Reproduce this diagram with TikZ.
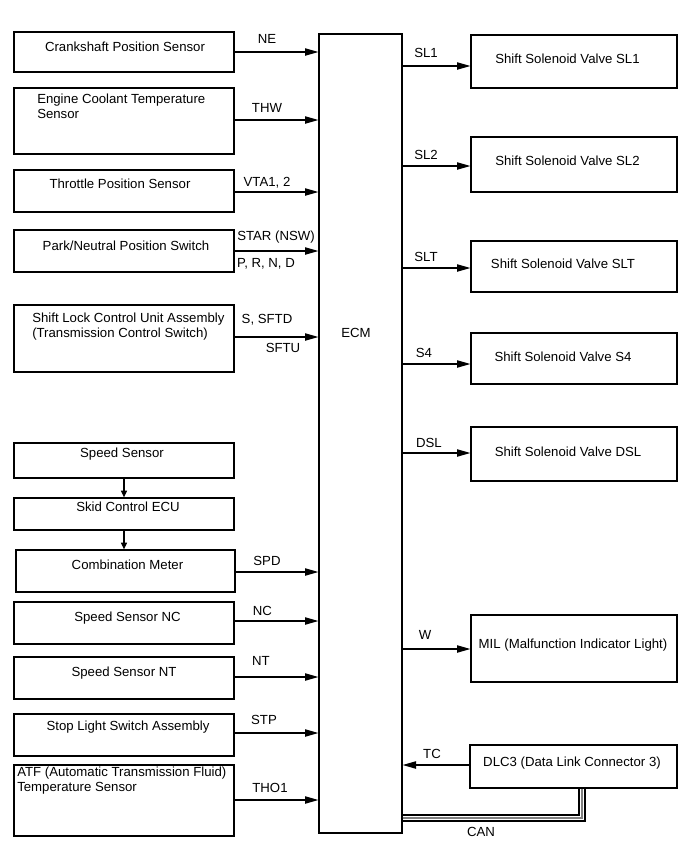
\documentclass[tikz,border=0pt]{standalone}
\usepackage{fontspec}
\setmainfont{Liberation Sans}
\usetikzlibrary{arrows.meta,fit}
\begin{document}
\begin{tikzpicture}[x=0.75pt,y=-0.75pt,
 box/.style={draw,line width=1pt,inner sep=0pt},
 txt/.style={font=\fontsize{9.9}{11.25}\selectfont, inner sep=0pt, text height=0.7em, text depth=0.05em},
 mtxt/.style={font=\fontsize{9.9}{11.25}\selectfont, inner sep=0pt, align=left, anchor=west},
 arr/.style={line width=0.8pt,-{Triangle[length=10pt,width=5.5pt]}},
 varr/.style={line width=0.8pt,-{Triangle[length=5pt,width=4.5pt]}},
 canline/.style={line width=0.8pt}]
\useasboundingbox (0,0) rectangle (690,854);
% ECM
\node[box,fit={(319,34) (402,833)}] (ecm) {};
\node[txt] (ecmt) at (356,333) {ECM};
% left boxes
\node[box,fit={(14,32) (234,72)}] (crank) {};
\node[box,fit={(14,88) (234,154)}] (ect) {};
\node[box,fit={(14,170) (234,212)}] (tps) {};
\node[box,fit={(14,230) (234,272)}] (pnp) {};
\node[box,fit={(14,305) (234,372)}] (slk) {};
\node[box,fit={(14,443) (234,478)}] (spd) {};
\node[box,fit={(14,498) (234,530)}] (skid) {};
\node[box,fit={(16,550) (235,592)}] (comb) {};
\node[box,fit={(14,602) (234,644)}] (nc) {};
\node[box,fit={(14,657) (234,699)}] (nt) {};
\node[box,fit={(14,714) (234,756)}] (stp) {};
\node[box,fit={(14,765) (234,836)}] (atf) {};
% left texts
\node[txt] (crankt) at (125,47) {Crankshaft Position Sensor};
\node[mtxt] (ectt) at (37,106.5) {Engine Coolant Temperature\\Sensor};
\node[txt] (tpst) at (120,184) {Throttle Position Sensor};
\node[txt] (pnpt) at (126,246) {Park/Neutral Position Switch};
\node[mtxt] (slkt) at (32,327) {Shift Lock Control Unit Assembly\\(Transmission Control Switch)};
\node[txt] (spdt) at (122,453) {Speed Sensor};
\node[txt] (skidt) at (128,507) {Skid Control ECU};
\node[txt] (combt) at (127.5,565) {Combination Meter};
\node[txt] (nct) at (127.5,617) {Speed Sensor NC};
\node[txt] (ntt) at (124,672) {Speed Sensor NT};
\node[txt] (stpt) at (128,726) {Stop Light Switch Assembly};
\node[mtxt] (atft) at (17,781) {ATF (Automatic Transmission Fluid)\\Temperature Sensor};
% left arrows
\draw[arr] (crank.east |- 0,52) -- (ecm.west |- 0,52);
\draw[arr] (ect.east |- 0,120) -- (ecm.west |- 0,120);
\draw[arr] (tps.east |- 0,192) -- (ecm.west |- 0,192);
\draw[arr] (pnp.east |- 0,251) -- (ecm.west |- 0,251);
\draw[arr] (slk.east |- 0,337) -- (ecm.west |- 0,337);
\draw[arr] (comb.east |- 0,572) -- (ecm.west |- 0,572);
\draw[arr] (nc.east |- 0,621) -- (ecm.west |- 0,621);
\draw[arr] (nt.east |- 0,677) -- (ecm.west |- 0,677);
\draw[arr] (stp.east |- 0,733) -- (ecm.west |- 0,733);
\draw[arr] (atf.east |- 0,800) -- (ecm.west |- 0,800);
\draw[varr] (spd.south -| 124,0) -- (skid.north -| 124,0);
\draw[varr] (skid.south -| 124,0) -- (comb.north -| 124,0);
% left labels
\node[txt] (lne) at (267,39) {NE};
\node[txt] (lthw) at (267,108) {THW};
\node[txt] (lvta) at (267,182) {VTA1, 2};
\node[txt] (lstar) at (276,236) {STAR (NSW)};
\node[txt] (lprnd) at (266,263) {P, R, N, D};
\node[txt] (lsftd) at (267,319) {S, SFTD};
\node[txt] (lsftu) at (283,348) {SFTU};
\node[txt] (lspd) at (267,561) {SPD};
\node[txt] (lnc) at (262.5,611) {NC};
\node[txt] (lnt) at (261,661) {NT};
\node[txt] (lstp) at (264,720) {STP};
\node[txt] (ltho) at (270,788) {THO1};
% right boxes
\node[box,fit={(471,35) (677,88)}] (sl1) {};
\node[box,fit={(471,137) (677,192)}] (sl2) {};
\node[box,fit={(471,241) (677,292)}] (slt) {};
\node[box,fit={(471,333) (677,384)}] (s4) {};
\node[box,fit={(471,427) (677,481)}] (dsl) {};
\node[box,fit={(471,615) (677,682)}] (mil) {};
\node[box,fit={(470,745) (677,788)}] (dlc) {};
% right texts
\node[txt] (sl1t) at (567.5,59) {Shift Solenoid Valve SL1};
\node[txt] (sl2t) at (567.5,161) {Shift Solenoid Valve SL2};
\node[txt] (sltt) at (563,264) {Shift Solenoid Valve SLT};
\node[txt] (s4t) at (563,357) {Shift Solenoid Valve S4};
\node[txt] (dslt) at (568,452) {Shift Solenoid Valve DSL};
\node[txt] (milt) at (573,644) {MIL (Malfunction Indicator Light)};
\node[txt] (dlct) at (572,762) {DLC3 (Data Link Connector 3)};
% right arrows
\draw[arr] (ecm.east |- 0,66) -- (sl1.west |- 0,66);
\draw[arr] (ecm.east |- 0,166) -- (sl2.west |- 0,166);
\draw[arr] (ecm.east |- 0,268) -- (slt.west |- 0,268);
\draw[arr] (ecm.east |- 0,364) -- (s4.west |- 0,364);
\draw[arr] (ecm.east |- 0,453) -- (dsl.west |- 0,453);
\draw[arr] (ecm.east |- 0,649) -- (mil.west |- 0,649);
\draw[arr] (dlc.west |- 0,765) -- (ecm.east |- 0,765);
% CAN
\draw[canline] (ecm.east |- 0,815) -| (dlc.south -| 579,0);
\draw[canline,gray] (ecm.east |- 0,818) -| (dlc.south -| 582,0);
\draw[canline] (ecm.east |- 0,821) -| (dlc.south -| 585,0);
% right labels
\node[txt] (rsl1) at (426,53) {SL1};
\node[txt] (rsl2) at (426,155) {SL2};
\node[txt] (rslt) at (426,257) {SLT};
\node[txt] (rs4) at (424,353) {S4};
\node[txt] (rdsl) at (429,443) {DSL};
\node[txt] (rw) at (425,635) {W};
\node[txt] (rtc) at (432,754) {TC};
\node[txt] (rcan) at (481,832) {CAN};
\end{tikzpicture}
\end{document}
